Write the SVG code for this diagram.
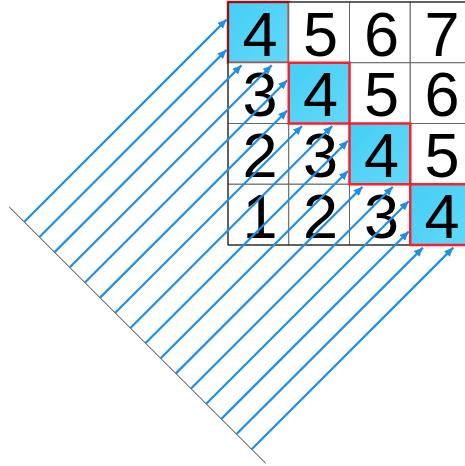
<svg xmlns="http://www.w3.org/2000/svg" width="465" height="466" viewBox="0 0 465 466">
<defs>
<linearGradient id="hl" x1="0" y1="0" x2="1" y2="1">
<stop offset="0" stop-color="#45CEF5"/>
<stop offset="1" stop-color="#62D9F8"/>
</linearGradient>
<marker id="ah" markerUnits="userSpaceOnUse" markerWidth="10" markerHeight="8" refX="9" refY="4" orient="auto">
<path d="M0,0 L9,4 L0,8 Z" fill="#1E8FE8"/>
</marker>
<style>
.cell{fill:#fff;stroke:#666;stroke-width:1}
.hl{fill:url(#hl);stroke:#FF1E2D;stroke-width:2.5}
.num{font-family:"Liberation Sans",Arial,sans-serif;font-size:63px;fill:#000;text-anchor:middle}
.arr{stroke:#1E8FE8;stroke-width:2.2;fill:none;marker-end:url(#ah)}
</style>
</defs>
<rect width="465" height="466" fill="#fff"/>
<g id="grid">
<g id="c00"><rect class="hl" x="228" y="2" width="60.75" height="60.75"/><text class="num" x="259.9" y="55.5">4</text></g>
<g id="c01"><rect class="cell" x="288.75" y="2" width="60.75" height="60.75"/><text class="num" x="320.6" y="55.5">5</text></g>
<g id="c02"><rect class="cell" x="349.5" y="2" width="60.75" height="60.75"/><text class="num" x="381.4" y="55.5">6</text></g>
<g id="c03"><rect class="cell" x="410.25" y="2" width="60.75" height="60.75"/><text class="num" x="442.1" y="55.5">7</text></g>
<g id="c10"><rect class="cell" x="228" y="62.75" width="60.75" height="60.75"/><text class="num" x="259.9" y="116">3</text></g>
<g id="c12"><rect class="cell" x="349.5" y="62.75" width="60.75" height="60.75"/><text class="num" x="381.4" y="116">5</text></g>
<g id="c13"><rect class="cell" x="410.25" y="62.75" width="60.75" height="60.75"/><text class="num" x="442.1" y="116">6</text></g>
<g id="c20"><rect class="cell" x="228" y="123.5" width="60.75" height="60.75"/><text class="num" x="259.9" y="176.8">2</text></g>
<g id="c21"><rect class="cell" x="288.75" y="123.5" width="60.75" height="60.75"/><text class="num" x="320.6" y="176.8">3</text></g>
<g id="c23"><rect class="cell" x="410.25" y="123.5" width="60.75" height="60.75"/><text class="num" x="442.1" y="176.8">5</text></g>
<g id="c30"><rect class="cell" x="228" y="184.25" width="60.75" height="60.75"/><text class="num" x="259.9" y="237.5">1</text></g>
<g id="c31"><rect class="cell" x="288.75" y="184.25" width="60.75" height="60.75"/><text class="num" x="320.6" y="237.5">2</text></g>
<g id="c32"><rect class="cell" x="349.5" y="184.25" width="60.75" height="60.75"/><text class="num" x="381.4" y="237.5">3</text></g>
<path d="M228,245 V2 H471 M228,245 H410.25" fill="none" stroke="#111" stroke-width="1"/>
<g id="c11"><rect class="hl" x="288.75" y="62.75" width="60.75" height="60.75"/><text class="num" x="320.6" y="116">4</text></g>
<g id="c22"><rect class="hl" x="349.5" y="123.5" width="60.75" height="60.75"/><text class="num" x="381.4" y="176.8">4</text></g>
<g id="c33"><rect class="hl" x="410.25" y="184.25" width="60.75" height="60.75"/><text class="num" x="442.1" y="237.5">4</text></g>
</g>
<g id="base"><line x1="9.3" y1="207" x2="265.7" y2="463.3" stroke="#333" stroke-width="1"/></g>
<g id="connectors">
<line class="arr" x1="24.3" y1="221.8" x2="226.5" y2="19.6"/>
<line class="arr" x1="39.46" y1="236.96" x2="226.5" y2="49.9"/>
<line class="arr" x1="54.62" y1="252.12" x2="241.5" y2="65.2"/>
<line class="arr" x1="69.78" y1="267.28" x2="271.8" y2="65.3"/>
<line class="arr" x1="84.94" y1="282.44" x2="287.2" y2="80.2"/>
<line class="arr" x1="100.1" y1="297.6" x2="287.2" y2="110.5"/>
<line class="arr" x1="115.26" y1="312.76" x2="302" y2="126"/>
<line class="arr" x1="130.42" y1="327.92" x2="332.3" y2="126"/>
<line class="arr" x1="145.58" y1="343.08" x2="348" y2="140.7"/>
<line class="arr" x1="160.74" y1="358.24" x2="348" y2="171"/>
<line class="arr" x1="175.9" y1="373.4" x2="362.5" y2="186.8"/>
<line class="arr" x1="191.06" y1="388.56" x2="392.8" y2="186.8"/>
<line class="arr" x1="206.22" y1="403.72" x2="408.7" y2="201.2"/>
<line class="arr" x1="221.38" y1="418.88" x2="408.7" y2="231.5"/>
<line class="arr" x1="236.54" y1="434.04" x2="423" y2="247.6"/>
<line class="arr" x1="251.7" y1="449.2" x2="453.3" y2="247.6"/>
</g>
</svg>
